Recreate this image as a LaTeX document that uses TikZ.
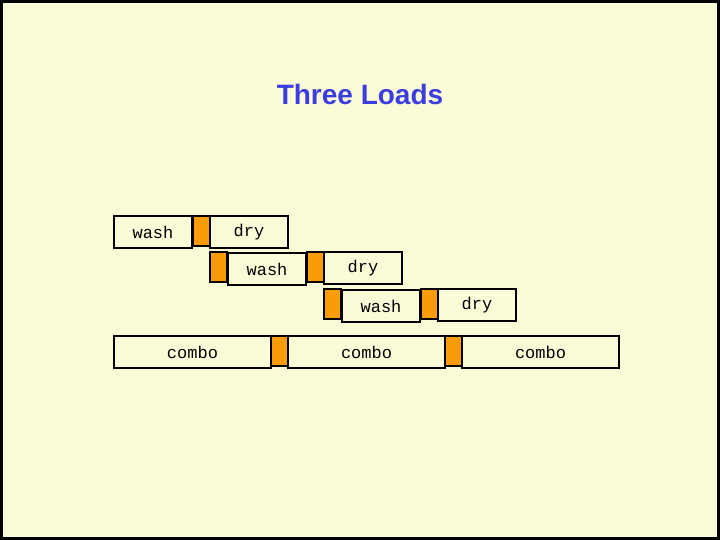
\documentclass[tikz,border=0pt]{standalone}
\usepackage{fontspec}
\setmainfont{Liberation Sans}
\setmonofont{Liberation Mono}
\usetikzlibrary{positioning}
\definecolor{bgcolor}{RGB}{250, 252, 216}
\definecolor{titlecolor}{RGB}{60, 60, 225}
\definecolor{gapcolor}{RGB}{250, 155, 10}
\begin{document}
\begin{tikzpicture}[
    x=1pt, y=-1pt,
    stage/.style={rectangle, draw, line width=2pt, fill=bgcolor, minimum width=78pt, minimum height=32pt, inner sep=0pt, anchor=north west, font=\ttfamily\fontsize{17}{17}\selectfont},
    combo/.style={stage, minimum width=157pt},
    gap/.style={rectangle, draw, line width=2pt, fill=gapcolor, minimum width=17pt, minimum height=30pt, inner sep=0pt, anchor=north west}
]

% Background
\draw[fill=bgcolor, line width=3pt] (1.5, 1.5) rectangle (718.5, 538.5);
\useasboundingbox (0, 0) rectangle (720, 540);

% Title
\node[font=\bfseries\fontsize{28}{28}\selectfont, text=titlecolor] (title) at (360, 94) {Three Loads};

% First load
\node[stage] (wash1) at (113, 215) {wash};
\node[gap] (gap1) at (192, 215) {};
\node[stage] (dry1) at (209, 215) {dry};

% Second load
\node[gap] (gap2) at (209, 251) {};
\node[stage] (wash2) at (227, 252) {wash};
\node[gap] (gap3) at (306, 251) {};
\node[stage] (dry2) at (323, 251) {dry};

% Third load
\node[gap] (gap4) at (323, 288) {};
\node[stage] (wash3) at (341, 289) {wash};
\node[gap] (gap5) at (420, 288) {};
\node[stage] (dry3) at (437, 288) {dry};

% Combined machine
\node[combo] (combo1) at (113, 335) {combo};
\node[gap] (gap6) at (270, 335) {};
\node[combo] (combo2) at (287, 335) {combo};
\node[gap] (gap7) at (444, 335) {};
\node[combo] (combo3) at (461, 335) {combo};

\end{tikzpicture}
\end{document}
